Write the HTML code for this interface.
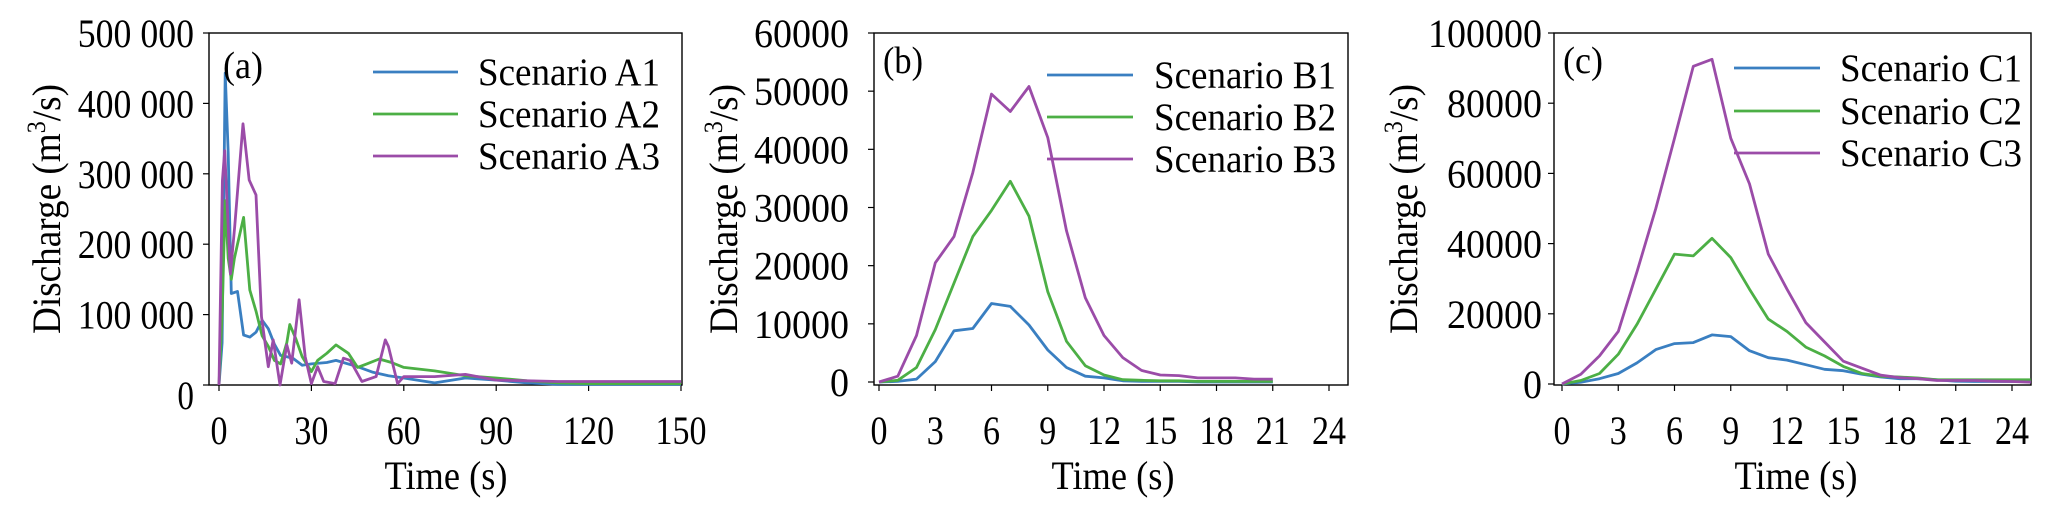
<!DOCTYPE html>
<html><head><meta charset="utf-8">
<style>
html,body{margin:0;padding:0;background:#fff;}
svg{display:block;font-family:"Liberation Serif",serif;}
</style></head>
<body>
<svg id="chart" width="2054" height="517" viewBox="0 0 2054 517" xmlns="http://www.w3.org/2000/svg"></svg>
<script>
// Panel (a)
const timesA1 = [0,1,2,3,4,6,8,10,12,14,16,18,20,22,24,27,30,35,38,45,50,55,60,70,80,90,100,110,120,150];
const valuesA1 = [0,60000,443000,330000,130000,133000,71000,68000,75000,92000,80000,58000,42000,40000,38000,28000,30000,32000,35000,26000,18000,13000,10000,3000,10000,7000,3000,1000,1000,1000];
const timesA2 = [0,1,2,3,4,5,6,8,10,12,14,16,18,20,22,23,25,27,30,32,35,38,42,45,48,52,56,60,70,80,90,100,110,120,150];
const valuesA2 = [0,100000,262000,180000,150000,180000,200000,238000,135000,105000,70000,55000,35000,30000,60000,86000,65000,40000,19000,35000,45000,57000,45000,25000,30000,37000,32000,25000,20000,13000,10000,6000,3000,2000,2000];
const timesA3 = [0,1.1,1.85,2.6,3.7,5.1,7.8,9.8,12,13.8,16,17.6,19.8,22,23.6,26,28,30,32,34,37.7,40.4,42.6,46.4,51,54,55,58,60,70,80,90,100,110,150];
const valuesA3 = [0,290000,333000,262000,158000,225000,371000,291000,270000,97000,26000,64000,0,57000,31000,121000,40000,2000,26000,5000,2000,38000,35000,5000,12000,64000,55000,2000,12000,12000,15000,7000,6000,5000,5000];
const ticksAX = [0,30,60,90,120,150];
const ticksAY = [0,100000,200000,300000,400000,500000];
const labelsAY = ["0","100 000","200 000","300 000","400 000","500 000"];
// Panel (b)
const timesB = [0,1,2,3,4,5,6,7,8,9,10,11,12,13,14,15,16,17,18,19,20,21];
const valuesB1 = [0,100,500,3500,8800,9200,13500,13000,9800,5500,2500,1000,700,200,100,100,100,0,0,0,0,0];
const valuesB2 = [0,300,2500,9000,17000,25000,29500,34500,28500,15500,7000,2800,1200,400,300,200,200,100,100,100,100,100];
const valuesB3 = [0,1000,8000,20500,25000,36000,49500,46500,50800,42000,26000,14500,8000,4200,2000,1200,1100,700,700,700,500,500];
const ticksBX = [0,3,6,9,12,15,18,21,24];
const ticksBY = [0,10000,20000,30000,40000,50000,60000];
// Panel (c)
const timesC = [0,1,2,3,4,5,6,7,8,9,10,11,12,13,14,15,16,17,18,19,20,21,22,23,24,25];
const valuesC1 = [0,500,1500,3000,6000,9800,11500,11800,14000,13500,9500,7500,6800,5500,4200,3800,2800,2000,1500,1500,1200,800,700,700,700,700];
const valuesC2 = [0,1000,3000,8500,17000,27000,37000,36500,41500,36000,27000,18500,15000,10500,8000,5000,3000,2200,2000,1700,1200,1200,1200,1200,1200,1200];
const valuesC3 = [0,2800,8000,15000,32000,50000,70000,90500,92500,70000,57000,37000,27000,17500,12000,6500,4500,2500,1800,1500,1000,1000,1000,800,700,500];
const ticksCX = [0,3,6,9,12,15,18,21,24];
const ticksCY = [0,20000,40000,60000,80000,100000];

const NS = "http://www.w3.org/2000/svg";
const svg = document.getElementById('chart');
const COLORS = ['#3a7fc1','#4caf45','#9b4ca8'];
function mk(tag, attrs, parent){const e=document.createElementNS(NS,tag);for(const k in attrs)e.setAttribute(k,attrs[k]);(parent||svg).appendChild(e);return e;}

function panel(p){
  const g = mk('g',{});
  
  
  const xs = v => p.x0 + v / p.xmax * (p.x1 - p.x0);
  const ys = v => p.y0 - v / p.ymax * (p.y0 - p.yTop);
  const frame = mk('rect',{x:p.left,y:p.yTop,width:p.right-p.left,height:p.bottom-p.yTop,fill:'none',stroke:'#000','stroke-width':1.4},g);
  
  
  p.ticksY.forEach((v,i)=>{
    const y = ys(v);
    const t = mk('line',{x1:p.left-6,x2:p.left,y1:y,y2:y,stroke:'#000','stroke-width':1.2},g);
    
    
    const lab = p.labelsY ? p.labelsY[i] : String(v);
    const yy = (v===0 && p.zeroLow) ? y+24 : y+14;
    const tx = mk('text',{x:p.ylabX,y:yy,'text-anchor':'end','font-size':40},g);
    tx.setAttribute('textLength', p.charW*lab.length);
    tx.setAttribute('lengthAdjust','spacingAndGlyphs');
    tx.textContent = lab;
    
    
  });
  p.ticksX.forEach(v=>{
    const x = xs(v);
    const t = mk('line',{x1:x,x2:x,y1:p.bottom,y2:p.bottom+6,stroke:'#000','stroke-width':1.2},g);
    
    
    const s = String(v);
    const tx = mk('text',{x:x,y:444,'text-anchor':'middle','font-size':40,textLength:s.length*17,lengthAdjust:'spacingAndGlyphs'},g);
    tx.textContent = s;
    
    
  });
  p.series.forEach((s,i)=>{
    const pts = s.t.map((tv,j)=>xs(tv).toFixed(1)+','+ys(s.v[j]).toFixed(1)).join(' ');
    const pl = mk('polyline',{points:pts,fill:'none',stroke:COLORS[i],'stroke-width':2.8,'stroke-linejoin':'round'},g);
    
    
    const ly = p.legY[i];
    const ll = mk('line',{x1:p.legX1,x2:p.legX2,y1:ly,y2:ly,stroke:COLORS[i],'stroke-width':2.8},g);
    
    
    const lt = mk('text',{x:p.legT,y:ly+13,'font-size':39,textLength:182,lengthAdjust:'spacingAndGlyphs'},g);
    lt.textContent = s.name;
    
    
  });
  const pl = mk('text',{x:p.tagX,y:p.tagY,'font-size':38,textLength:40,lengthAdjust:'spacingAndGlyphs'},g);
  pl.textContent = '('+p.id+')';
  
  
  const xt = mk('text',{x:p.xtX,y:489,'text-anchor':'middle','font-size':40,textLength:123,lengthAdjust:'spacingAndGlyphs'},g);
  xt.textContent = 'Time (s)';
  
  
  const yt = mk('text',{x:0,y:0,'text-anchor':'middle','font-size':40,textLength:250,lengthAdjust:'spacingAndGlyphs',transform:`translate(${p.ytX},209) rotate(-90)`},g);
  yt.innerHTML = 'Discharge (m<tspan dy="-15" font-size="26">3</tspan><tspan dy="15">/s)</tspan>';
  
  
}

panel({id:'a',left:209,right:682,yTop:33,bottom:385,x0:219,x1:681,xmax:150,y0:385,ymax:500000,zeroLow:true,
  ticksX:ticksAX,ticksY:ticksAY,labelsY:labelsAY,ylabX:194,charW:16.6,
  legX1:373,legX2:458,legT:478,legY:[72,114,156],tagX:223,tagY:78,xtX:446,ytX:60,
  series:[{name:'Scenario A1',t:timesA1,v:valuesA1},{name:'Scenario A2',t:timesA2,v:valuesA2},{name:'Scenario A3',t:timesA3,v:valuesA3}]});
panel({id:'b',left:874,right:1348,yTop:33,bottom:385,x0:879,x1:1329,xmax:24,y0:382,ymax:60000,
  ticksX:ticksBX,ticksY:ticksBY,ylabX:849,charW:19,
  legX1:1047,legX2:1133,legT:1154,legY:[75,117,159],tagX:883,tagY:73,xtX:1113,ytX:737,
  series:[{name:'Scenario B1',t:timesB,v:valuesB1},{name:'Scenario B2',t:timesB,v:valuesB2},{name:'Scenario B3',t:timesB,v:valuesB3}]});
panel({id:'c',left:1554,right:2031,yTop:33,bottom:385,x0:1562,x1:2012,xmax:24,y0:384,ymax:100000,
  ticksX:ticksCX,ticksY:ticksCY,ylabX:1542,charW:19,
  legX1:1734,legX2:1820,legT:1840,legY:[68,111,153],tagX:1563,tagY:73,xtX:1796,ytX:1417,
  series:[{name:'Scenario C1',t:timesC,v:valuesC1},{name:'Scenario C2',t:timesC,v:valuesC2},{name:'Scenario C3',t:timesC,v:valuesC3}]});
</script>
</body></html>
